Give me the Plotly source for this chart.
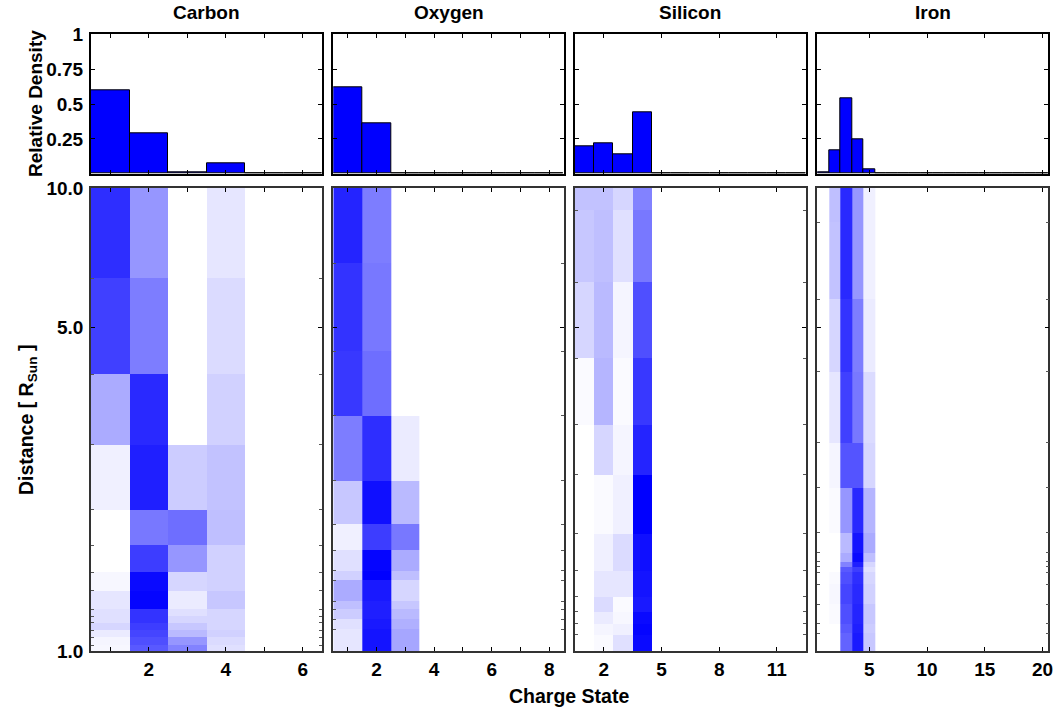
import plotly.graph_objects as go

# ---------------- data ----------------
elements = ["Carbon", "Oxygen", "Silicon", "Iron"]

carbon_charges = [1, 2, 3, 4, 5, 6]
oxygen_charges = [1, 2, 3, 4, 5, 6, 7, 8]
silicon_charges = list(range(1, 13))
iron_charges = list(range(1, 21))

# relative density (top histograms)
carbon_density = [0.60, 0.29, 0.012, 0.075, 0.0, 0.0]
oxygen_density = [0.62, 0.36, 0.005, 0.0, 0.0, 0.0, 0.0, 0.0]
silicon_density = [0.20, 0.22, 0.14, 0.44, 0, 0, 0, 0, 0, 0, 0, 0]
iron_density = [0.01, 0.168, 0.54, 0.25, 0.034, 0, 0, 0, 0, 0,
                0, 0, 0, 0, 0, 0, 0, 0, 0, 0]

# distance grid edges [R_sun] for each element (bottom -> top)
carbon_r_edges = [1.0, 1.03, 1.07, 1.11, 1.15, 1.19, 1.23, 1.35, 1.48,
                  1.69, 2.02, 2.79, 3.96, 6.38, 10.0]
oxygen_r_edges = [1.0, 1.114, 1.17, 1.23, 1.28, 1.42, 1.49, 1.65, 1.88,
                  2.33, 3.22, 4.44, 6.88, 10.0]
silicon_r_edges = [1.0, 1.083, 1.144, 1.216, 1.31, 1.49, 1.79, 2.40, 3.08,
                   4.29, 6.26, 8.96, 10.0]
iron_r_edges = [1.0, 1.092, 1.144, 1.263, 1.395, 1.48, 1.52, 1.56, 1.63,
                1.80, 2.25, 2.82, 4.01, 5.75, 8.43, 10.0]

# normalized density per (distance row, charge state), rows bottom -> top
carbon_map = [
    [0.03, 0.65, 0.49, 0.12],
    [0.04, 0.69, 0.41, 0.14],
    [0.08, 0.73, 0.27, 0.18],
    [0.16, 0.76, 0.22, 0.16],
    [0.12, 0.80, 0.16, 0.16],
    [0.12, 0.80, 0.12, 0.16],
    [0.10, 0.98, 0.08, 0.22],
    [0.03, 0.96, 0.16, 0.18],
    [0.00, 0.76, 0.41, 0.18],
    [0.00, 0.53, 0.57, 0.25],
    [0.06, 0.88, 0.20, 0.24],
    [0.33, 0.84, 0.00, 0.18],
    [0.75, 0.51, 0.00, 0.14],
    [0.82, 0.41, 0.00, 0.10],
]
oxygen_map = [
    [0.10, 0.92, 0.35],
    [0.12, 0.90, 0.31],
    [0.20, 0.88, 0.27],
    [0.25, 0.88, 0.22],
    [0.33, 0.90, 0.16],
    [0.18, 1.00, 0.25],
    [0.12, 0.98, 0.33],
    [0.06, 0.76, 0.53],
    [0.22, 0.94, 0.27],
    [0.51, 0.82, 0.08],
    [0.78, 0.57, 0.00],
    [0.80, 0.53, 0.00],
    [0.86, 0.51, 0.00],
]
silicon_map = [
    [0.00, 0.02, 0.12, 0.96],
    [0.00, 0.04, 0.06, 0.98],
    [0.00, 0.08, 0.03, 0.96],
    [0.00, 0.14, 0.02, 0.90],
    [0.00, 0.10, 0.10, 0.92],
    [0.00, 0.06, 0.14, 0.94],
    [0.00, 0.02, 0.06, 1.00],
    [0.00, 0.16, 0.04, 0.86],
    [0.02, 0.29, 0.02, 0.78],
    [0.16, 0.27, 0.04, 0.69],
    [0.22, 0.25, 0.12, 0.53],
    [0.24, 0.24, 0.16, 0.49],
]
iron_map = [
    [0.00, 0.00, 0.61, 0.90, 0.22],
    [0.00, 0.00, 0.65, 0.88, 0.20],
    [0.00, 0.02, 0.69, 0.86, 0.22],
    [0.00, 0.03, 0.73, 0.84, 0.18],
    [0.00, 0.02, 0.69, 0.82, 0.16],
    [0.00, 0.00, 0.65, 0.76, 0.12],
    [0.00, 0.00, 0.49, 0.88, 0.16],
    [0.00, 0.00, 0.33, 0.96, 0.25],
    [0.00, 0.00, 0.27, 0.92, 0.33],
    [0.00, 0.02, 0.41, 0.84, 0.29],
    [0.00, 0.04, 0.67, 0.67, 0.16],
    [0.00, 0.10, 0.75, 0.53, 0.14],
    [0.00, 0.16, 0.80, 0.51, 0.08],
    [0.00, 0.24, 0.84, 0.41, 0.06],
    [0.00, 0.25, 0.84, 0.41, 0.06],
]

# axis ticks
x_major = [[2, 4, 6], [2, 4, 6, 8], [2, 5, 8, 11], [5, 10, 15, 20]]
x_minor = [[1, 3, 5], [1, 3, 5, 7], [], []]
hist_yticks = [0.25, 0.5, 0.75, 1.0]
hist_ylabels = ["0.25", "0.5", "0.75", "1"]
dist_ticks = [1.0, 5.0, 10.0]
dist_labels = ["1.0", "5.0", "10.0"]

# ---------------- figure ----------------
W, H = 1059, 712
FONT = "Liberation Sans, Arial, Helvetica, sans-serif"
FS = 19
charges = [carbon_charges, oxygen_charges, silicon_charges, iron_charges]
densities = [carbon_density, oxygen_density, silicon_density, iron_density]
edges = [carbon_r_edges, oxygen_r_edges, silicon_r_edges, iron_r_edges]
maps = [carbon_map, oxygen_map, silicon_map, iron_map]

col_px = [(91, 322), (333.3, 563.7), (575, 805.7), (817.3, 1048.3)]
hist_px = (34.3, 173.7)
heat_px = (188, 651)


def ydom(top, bot):
    return [1 - bot / H, 1 - top / H]


fig = go.Figure()
layout = dict(
    width=W, height=H,
    margin=dict(l=0, r=0, t=0, b=0, pad=0, autoexpand=False),
    paper_bgcolor="white", plot_bgcolor="white", showlegend=False,
    font=dict(family=FONT, size=FS, color="black"),
    bargap=0,
)
tickfont = dict(family=FONT, size=FS, color="black", weight="bold")

for i in range(4):
    n = len(charges[i])
    hx, hy = i + 1, i + 1
    mx, my = i + 5, i + 5
    # histogram
    fig.add_trace(go.Bar(
        x=charges[i], y=densities[i], width=1,
        marker=dict(color="#0000ff", line=dict(color="black", width=1)),
        xaxis=f"x{hx}", yaxis=f"y{hy}", hoverinfo="skip"))
    # heatmap (pad with empty charge states)
    z = [row + [0.0] * (n - len(row)) for row in maps[i]]
    fig.add_trace(go.Heatmap(
        x=charges[i], y=edges[i], z=z, zmin=0, zmax=1,
        colorscale=[[0, "#ffffff"], [1, "#0000ff"]], showscale=False,
        xaxis=f"x{mx}", yaxis=f"y{my}", hoverinfo="skip"))

    xd = [col_px[i][0] / W, col_px[i][1] / W]
    common = dict(showline=True, linecolor="black", mirror="ticks",
                  ticks="inside", ticklen=4, tickcolor="black", tickwidth=1,
                  showgrid=False, zeroline=False, tickfont=tickfont,
                  automargin=False)
    xminor = dict(tickvals=x_minor[i], ticks="inside", ticklen=4,
                  tickcolor="black", tickwidth=1, showgrid=False)
    layout[f"xaxis{hx}"] = dict(common, domain=xd, anchor=f"y{hy}",
                                range=[0.5, n + 0.5], tickmode="array",
                                tickvals=x_major[i], minor=xminor,
                                showticklabels=False, linewidth=2)
    layout[f"yaxis{hy}"] = dict(common, domain=ydom(*hist_px), anchor=f"x{hx}",
                                range=[0, 1], tickmode="array",
                                tickvals=hist_yticks, ticktext=hist_ylabels,
                                showticklabels=(i == 0), linewidth=2,
                                ticklabelstandoff=2)
    layout[f"xaxis{mx}"] = dict(common, domain=xd, anchor=f"y{my}",
                                range=[0.5, n + 0.5], tickmode="array",
                                tickvals=x_major[i], minor=xminor,
                                linewidth=1.5, linecolor="#333333",
                                ticklabelstandoff=0)
    layout[f"yaxis{my}"] = dict(common, domain=ydom(*heat_px), anchor=f"x{mx}",
                                type="log", range=[0, 1], tickmode="array",
                                tickvals=dist_ticks, ticktext=dist_labels,
                                minor=dict(tickvals=edges[i][1:-1],
                                           ticks="inside", ticklen=3,
                                           tickcolor="#555555", tickwidth=1,
                                           showgrid=False),
                                showticklabels=(i == 0), linewidth=1.5,
                                linecolor="#333333", ticklabelstandoff=2)

annotations = []
for i, name in enumerate(elements):
    cx = (col_px[i][0] + col_px[i][1]) / 2 / W
    annotations.append(dict(text=f"<b>{name}</b>", x=cx, y=1 - 13 / H,
                            xref="paper", yref="paper", showarrow=False,
                            xanchor="center", yanchor="middle",
                            font=dict(family=FONT, size=FS, color="black")))
annotations.append(dict(text="<b>Relative Density</b>", x=35 / W,
                        y=1 - 104 / H, xref="paper", yref="paper",
                        showarrow=False, textangle=-90, xanchor="center",
                        yanchor="middle",
                        font=dict(family=FONT, size=FS, color="black")))
annotations.append(dict(text="<b>Distance [ R<sub>Sun</sub> ]</b>", x=27 / W,
                        y=1 - 420 / H, xref="paper", yref="paper",
                        showarrow=False, textangle=-90, xanchor="center",
                        yanchor="middle",
                        font=dict(family=FONT, size=19.5, color="black")))
annotations.append(dict(text="<b>Charge State</b>", x=569 / W, y=1 - 696 / H,
                        xref="paper", yref="paper", showarrow=False,
                        xanchor="center", yanchor="middle",
                        font=dict(family=FONT, size=19.5, color="black")))
layout["annotations"] = annotations

fig.update_layout(**layout)
fig.write_html("out.html")
